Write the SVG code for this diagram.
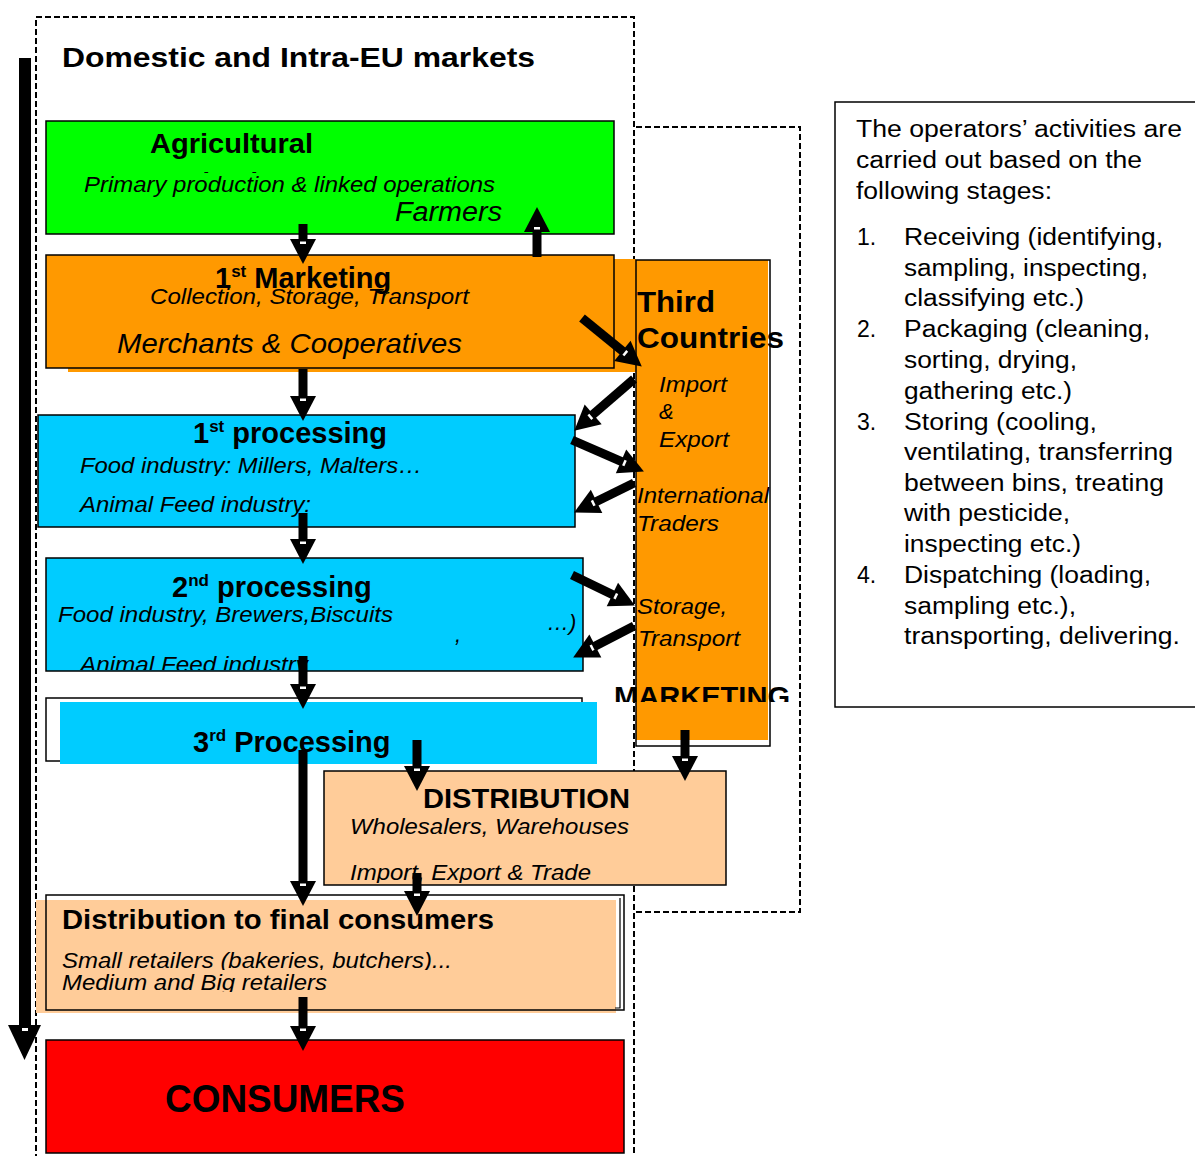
<svg xmlns="http://www.w3.org/2000/svg" width="1195" height="1156" viewBox="0 0 1195 1156">
<style>
text{font-family:"Liberation Sans",Arial,sans-serif;fill:#000}
.b{font-weight:bold}
.i{font-style:italic}
.box{stroke:#000;stroke-width:1.5}
.dash{fill:none;stroke:#000;stroke-width:2;stroke-dasharray:6,3}
.conn line{stroke:#000;stroke-width:9;marker-end:url(#ah)}
.r{font-size:23px}
</style>
<defs>
<marker id="ah" markerUnits="userSpaceOnUse" markerWidth="25" markerHeight="26" viewBox="0 0 25 26" refX="12" refY="13" orient="auto" overflow="visible">
<path d="M0,0 L25,13 L0,26 z" fill="#000"/>
<rect x="2.5" y="10" width="2.5" height="6" fill="#fff"/>
</marker>
<clipPath id="cProd"><rect x="100" y="150" width="300" height="23"/></clipPath>
<clipPath id="cFood1"><rect x="60" y="440" width="400" height="36"/></clipPath>
<clipPath id="cAnim2"><rect x="60" y="640" width="400" height="30"/></clipPath>
<clipPath id="cMkt"><rect x="600" y="670" width="200" height="32"/></clipPath>
<clipPath id="cWh"><rect x="340" y="810" width="300" height="27"/></clipPath>
<clipPath id="cImp"><rect x="340" y="850" width="300" height="33"/></clipPath>
<clipPath id="cSmall"><rect x="50" y="940" width="450" height="30"/></clipPath>
<clipPath id="cMed"><rect x="50" y="970" width="450" height="22"/></clipPath>
</defs>

<rect width="1195" height="1156" fill="#fff"/>

<g id="frames">
<path class="dash" d="M36,1160 V17 H634 V1160"/>
<path class="dash" d="M636,127 H800 V912 H636"/>
<text class="b" x="62" y="67" font-size="28" textLength="473" lengthAdjust="spacingAndGlyphs">Domestic and Intra-EU markets</text>
</g>

<g id="agricultural">
<rect class="box" x="46" y="121" width="568" height="113" fill="#00FF00"/>
<text class="b" x="150" y="153" font-size="27" textLength="163" lengthAdjust="spacingAndGlyphs">Agricultural</text>
<text class="b" x="150" y="192" font-size="27" clip-path="url(#cProd)">production</text>
<text class="i" x="84" y="192" font-size="22" textLength="411" lengthAdjust="spacingAndGlyphs">Primary production &amp; linked operations</text>
<text class="i" x="395" y="221" font-size="27" textLength="107" lengthAdjust="spacingAndGlyphs">Farmers</text>
</g>

<g id="marketing1">
<rect x="68" y="259" width="568" height="113" fill="#FF9900"/>
<rect class="box" x="46" y="255" width="568" height="113" fill="#FF9900"/>
<text class="b" x="215" y="288" font-size="29">1<tspan font-size="17" dy="-11">st</tspan><tspan dy="11"> Marketing</tspan></text>
<text class="i" x="150" y="304" font-size="22" textLength="319" lengthAdjust="spacingAndGlyphs">Collection, Storage, Transport</text>
<text class="i" x="117" y="353" font-size="28" textLength="345" lengthAdjust="spacingAndGlyphs">Merchants &amp; Cooperatives</text>
</g>

<g id="third-countries">
<rect x="636" y="260" width="132" height="480" fill="#FF9900"/>
<rect class="box" x="636" y="260" width="134" height="486" fill="none"/>
<text class="b" x="637" y="312" font-size="29" textLength="78" lengthAdjust="spacingAndGlyphs">Third</text>
<text class="b" x="637" y="348" font-size="29" textLength="147" lengthAdjust="spacingAndGlyphs">Countries</text>
<text class="i" x="659" y="392" font-size="22" textLength="68" lengthAdjust="spacingAndGlyphs">Import</text>
<text class="i" x="659" y="419" font-size="22">&amp;</text>
<text class="i" x="659" y="447" font-size="22" textLength="70" lengthAdjust="spacingAndGlyphs">Export</text>
<text class="i" x="637" y="503" font-size="22" textLength="132" lengthAdjust="spacingAndGlyphs">International</text>
<text class="i" x="637" y="531" font-size="22" textLength="82" lengthAdjust="spacingAndGlyphs">Traders</text>
<text class="i" x="637" y="614" font-size="22" textLength="90" lengthAdjust="spacingAndGlyphs">Storage,</text>
<text class="i" x="638" y="646" font-size="22" textLength="102" lengthAdjust="spacingAndGlyphs">Transport</text>
<text class="b" x="614" y="706" font-size="28" textLength="176" lengthAdjust="spacingAndGlyphs" clip-path="url(#cMkt)">MARKETING</text>
</g>

<g id="processing1">
<rect class="box" x="38" y="415" width="537" height="112" fill="#00CCFF"/>
<text class="b" x="193" y="443" font-size="29">1<tspan font-size="17" dy="-11">st</tspan><tspan dy="11"> processing</tspan></text>
<text class="i" x="80" y="473" font-size="22" textLength="342" lengthAdjust="spacingAndGlyphs" clip-path="url(#cFood1)">Food industry: Millers, Malters…</text>
<text class="i" x="80" y="512" font-size="22" textLength="231" lengthAdjust="spacingAndGlyphs">Animal Feed industry:</text>
</g>

<g id="processing2">
<rect class="box" x="46" y="558" width="537" height="113" fill="#00CCFF"/>
<text class="b" x="172" y="597" font-size="29">2<tspan font-size="17" dy="-11">nd</tspan><tspan dy="11"> processing</tspan></text>
<text class="i" x="58" y="622" font-size="22" textLength="335" lengthAdjust="spacingAndGlyphs">Food industry, Brewers,Biscuits</text>
<text class="i" x="547" y="630" font-size="22">…)</text>
<text class="i" x="455" y="642" font-size="22">,</text>
<text class="i" x="80" y="672" font-size="22" textLength="228" lengthAdjust="spacingAndGlyphs" clip-path="url(#cAnim2)">Animal Feed industry</text>
</g>

<g id="processing3">
<rect class="box" x="46" y="698" width="536" height="63" fill="#fff"/>
<rect x="60" y="702" width="537" height="62" fill="#00CCFF"/>
<text class="b" x="193" y="752" font-size="29">3<tspan font-size="17" dy="-11">rd</tspan><tspan dy="11"> Processing</tspan></text>
</g>

<g id="distribution">
<rect class="box" x="324" y="771" width="402" height="114" fill="#FFCC99"/>
<text class="b" x="423" y="808" font-size="28" textLength="207" lengthAdjust="spacingAndGlyphs">DISTRIBUTION</text>
<text class="i" x="350" y="834" font-size="22" textLength="279" lengthAdjust="spacingAndGlyphs" clip-path="url(#cWh)">Wholesalers, Warehouses</text>
<text class="i" x="350" y="880" font-size="22" textLength="241" lengthAdjust="spacingAndGlyphs" clip-path="url(#cImp)">Import, Export &amp; Trade</text>
</g>

<g id="final-distribution">
<rect x="36" y="900" width="580" height="113" fill="#FFCC99"/>
<rect class="box" x="46" y="895" width="578" height="115" fill="none"/>
<path d="M620,898 V1008 H615" fill="none" stroke="#000" stroke-width="1.2"/>
<text class="b" x="62" y="929" font-size="28" textLength="432" lengthAdjust="spacingAndGlyphs">Distribution to final consumers</text>
<text class="i" x="62" y="968" font-size="22" textLength="390" lengthAdjust="spacingAndGlyphs" clip-path="url(#cSmall)">Small retailers (bakeries, butchers)...</text>
<text class="i" x="62" y="990" font-size="22" textLength="265" lengthAdjust="spacingAndGlyphs" clip-path="url(#cMed)">Medium and Big retailers</text>
</g>

<g id="consumers">
<rect class="box" x="46" y="1040" width="578" height="113" fill="#FF0000"/>
<text class="b" x="165" y="1112" font-size="38" textLength="240" lengthAdjust="spacingAndGlyphs">CONSUMERS</text>
</g>

<g id="stages-note">
<rect class="box" x="835" y="102" width="370" height="605" fill="#fff"/>
<text class="r" x="856" y="137" textLength="326" lengthAdjust="spacingAndGlyphs">The operators’ activities are</text>
<text class="r" x="856" y="168" textLength="286" lengthAdjust="spacingAndGlyphs">carried out based on the</text>
<text class="r" x="856" y="199" textLength="196" lengthAdjust="spacingAndGlyphs">following stages:</text>
<text class="r" x="857" y="245">1.</text>
<text class="r" x="904" y="245" textLength="259" lengthAdjust="spacingAndGlyphs">Receiving (identifying,</text>
<text class="r" x="904" y="276" textLength="244" lengthAdjust="spacingAndGlyphs">sampling, inspecting,</text>
<text class="r" x="904" y="306" textLength="180" lengthAdjust="spacingAndGlyphs">classifying etc.)</text>
<text class="r" x="857" y="337">2.</text>
<text class="r" x="904" y="337" textLength="246" lengthAdjust="spacingAndGlyphs">Packaging (cleaning,</text>
<text class="r" x="904" y="368" textLength="173" lengthAdjust="spacingAndGlyphs">sorting, drying,</text>
<text class="r" x="904" y="399" textLength="168" lengthAdjust="spacingAndGlyphs">gathering etc.)</text>
<text class="r" x="857" y="430">3.</text>
<text class="r" x="904" y="430" textLength="193" lengthAdjust="spacingAndGlyphs">Storing (cooling,</text>
<text class="r" x="904" y="460" textLength="269" lengthAdjust="spacingAndGlyphs">ventilating, transferring</text>
<text class="r" x="904" y="491" textLength="260" lengthAdjust="spacingAndGlyphs">between bins, treating</text>
<text class="r" x="904" y="521" textLength="166" lengthAdjust="spacingAndGlyphs">with pesticide,</text>
<text class="r" x="904" y="552" textLength="177" lengthAdjust="spacingAndGlyphs">inspecting etc.)</text>
<text class="r" x="857" y="583">4.</text>
<text class="r" x="904" y="583" textLength="247" lengthAdjust="spacingAndGlyphs">Dispatching (loading,</text>
<text class="r" x="904" y="614" textLength="172" lengthAdjust="spacingAndGlyphs">sampling etc.),</text>
<text class="r" x="904" y="644" textLength="276" lengthAdjust="spacingAndGlyphs">transporting, delivering.</text>
</g>

<g id="connectors" class="conn">
<rect x="19" y="58" width="12" height="968" fill="#000"/>
<polygon points="8,1025 41,1025 24.5,1060" fill="#000"/>
<rect x="22" y="1028" width="6" height="3" fill="#fff"/>
<line x1="303" y1="224" x2="303" y2="251"/>
<line x1="537" y1="257" x2="537" y2="220"/>
<line x1="303" y1="369" x2="303" y2="408"/>
<line x1="303" y1="513" x2="303" y2="551"/>
<line x1="303" y1="656" x2="303" y2="696"/>
<line x1="303" y1="750" x2="303" y2="893"/>
<line x1="417" y1="740" x2="417" y2="778"/>
<line x1="685" y1="730" x2="685" y2="768"/>
<line x1="417" y1="873" x2="417" y2="903"/>
<line x1="303" y1="997" x2="303" y2="1038"/>
<line x1="582" y1="318" x2="631.7" y2="358.4"/>
<line x1="634" y1="379" x2="584.1" y2="422.2"/>
<line x1="572" y1="440" x2="632" y2="466.2"/>
<line x1="634" y1="483" x2="585.8" y2="506.7"/>
<line x1="572" y1="575" x2="623.2" y2="599.8"/>
<line x1="634" y1="626" x2="584.7" y2="651.5"/>
</g>
</svg>
